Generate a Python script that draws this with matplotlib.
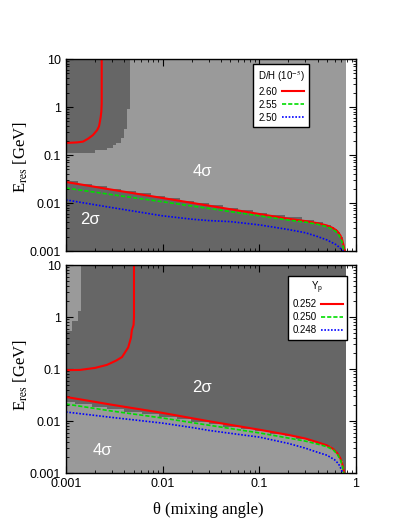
import numpy as np
import matplotlib
matplotlib.use("Agg")
import matplotlib.pyplot as plt
from matplotlib.colors import ListedColormap
from matplotlib.lines import Line2D

plt.rcParams['font.family'] = ['Liberation Sans', 'DejaVu Sans']
plt.rcParams['mathtext.fontset'] = 'stix'

# ---- D/H panel (top) ----
dh_labels = ['2.60', '2.55', '2.50']
# upper-left red contour
dh_up_theta = [0.001, 0.0013, 0.0015, 0.0017, 0.0019, 0.0021, 0.0022, 0.00228, 0.00232, 0.00234, 0.00234]
dh_up_E = [0.178, 0.183, 0.19, 0.22, 0.26, 0.33, 0.40, 0.6, 0.8, 1.2, 10]
# lower contours
dh_red_theta = [0.001, 0.003, 0.01, 0.03, 0.1, 0.2, 0.3, 0.4, 0.5, 0.58, 0.64, 0.69, 0.72, 0.745, 0.765]
dh_red_E = [0.0274, 0.0189, 0.0127, 0.0088, 0.0059, 0.0047, 0.0042, 0.0038, 0.0034, 0.0030, 0.0026, 0.0021, 0.0017, 0.0013, 0.001]
dh_grn_theta = [0.001, 0.003, 0.01, 0.03, 0.1, 0.2, 0.3, 0.4, 0.5, 0.58, 0.64, 0.69, 0.72, 0.74, 0.755]
dh_grn_E = [0.0205, 0.0149, 0.0106, 0.0077, 0.0054, 0.0044, 0.0040, 0.0036, 0.0032, 0.0028, 0.0024, 0.0019, 0.0015, 0.0012, 0.001]
dh_blu_theta = [0.001, 0.003, 0.01, 0.02, 0.03, 0.05, 0.1, 0.2, 0.3, 0.4, 0.5, 0.63, 0.7, 0.74]
dh_blu_E = [0.0116, 0.0080, 0.0054, 0.0046, 0.0043, 0.0041, 0.0035, 0.0028, 0.0024, 0.0020, 0.0017, 0.00134, 0.0011, 0.001]
# 2 sigma region edges
dh_2s_theta = [0.001, 0.003, 0.01, 0.03, 0.1, 0.2, 0.3, 0.4, 0.5, 0.58, 0.64, 0.69, 0.72, 0.745, 0.765]
dh_2s_E = [0.029, 0.0202, 0.0137, 0.0095, 0.0064, 0.0051, 0.0046, 0.0041, 0.0036, 0.0031, 0.0027, 0.0022, 0.0017, 0.0013, 0.001]
dh_box_E = [0.113, 0.115, 0.133, 0.154, 0.2, 0.4, 0.8, 1.0, 10]
dh_box_theta = [0.0, 0.0019, 0.00265, 0.0031, 0.0038, 0.0042, 0.0043, 0.0046, 0.0046]

# ---- Yp panel (bottom) ----
yp_labels = ['0.252', '0.250', '0.248']
yp_up_theta = [0.001, 0.0014, 0.002, 0.00265, 0.0033, 0.0038, 0.0044, 0.0047, 0.0048, 0.005, 0.00505, 0.00505]
yp_up_E = [0.095, 0.096, 0.105, 0.12, 0.145, 0.17, 0.26, 0.4, 0.56, 0.7, 1.0, 10]
yp_red_theta = [0.001, 0.003, 0.01, 0.03, 0.1, 0.2, 0.3, 0.4, 0.5, 0.58, 0.64, 0.69, 0.72, 0.74, 0.755]
yp_red_E = [0.029, 0.0205, 0.0143, 0.0099, 0.0068, 0.0054, 0.0046, 0.0039, 0.0034, 0.0029, 0.0024, 0.0019, 0.0015, 0.0012, 0.001]
yp_grn_theta = [0.001, 0.003, 0.01, 0.03, 0.1, 0.2, 0.3, 0.4, 0.5, 0.58, 0.64, 0.69, 0.72, 0.74, 0.745]
yp_grn_E = [0.0212, 0.0155, 0.0114, 0.0083, 0.0059, 0.0047, 0.0041, 0.0036, 0.0032, 0.0028, 0.0023, 0.0018, 0.0014, 0.0011, 0.001]
yp_blu_theta = [0.001, 0.003, 0.01, 0.02, 0.03, 0.05, 0.1, 0.2, 0.3, 0.4, 0.5, 0.6, 0.66, 0.7, 0.73]
yp_blu_E = [0.0149, 0.0117, 0.0091, 0.0075, 0.0066, 0.0058, 0.0049, 0.0037, 0.0030, 0.0025, 0.0022, 0.0018, 0.0015, 0.0012, 0.001]
# 4 sigma region edges
yp_4s_theta = yp_grn_theta
yp_4s_E = [0.0235, 0.0172, 0.0126, 0.0092, 0.0065, 0.0052, 0.0045, 0.0039, 0.0034, 0.0030, 0.0025, 0.0019, 0.0015, 0.0012, 0.001]
yp_box_E = [0.55, 0.56, 0.8, 0.81, 1.23, 1.24, 10]
yp_box_theta = [0.0, 0.00118, 0.00118, 0.00129, 0.00129, 0.0014, 0.0014]

theta_max = 0.785
dark, light = '#666666', '#9a9a9a'


def region_map(ny, b_theta, b_E, box_E, box_theta):
    xe = np.linspace(-3, np.log10(theta_max), 97)
    ye = np.linspace(-3, 1, ny + 1)
    xc = 0.5 * (xe[1:] + xe[:-1])
    yc = 0.5 * (ye[1:] + ye[:-1])
    X, Y = np.meshgrid(xc, yc)
    edge = np.interp(X, np.log10(b_theta), np.log10(b_E), right=-10)
    tmax = np.interp(Y, np.log10(box_E), box_theta, left=0.0)
    inside = (Y < edge) | (10 ** X < tmax)
    return 10 ** xe, 10 ** ye, inside.astype(float)


fig = plt.figure(figsize=(4.2, 5.28), dpi=100)
ax1 = fig.add_axes([66 / 420, 1 - 251 / 528, 290 / 420, 192 / 528])
ax2 = fig.add_axes([66 / 420, 1 - 473 / 528, 290 / 420, 208 / 528])

# top: dark = 2 sigma inside, light elsewhere
xe, ye, m = region_map(80, dh_2s_theta, dh_2s_E, dh_box_E, dh_box_theta)
ax1.pcolormesh(xe, ye, m, cmap=ListedColormap([light, dark]), vmin=0, vmax=1)
# bottom: light = 4 sigma inside, dark elsewhere
xe, ye, m = region_map(85, yp_4s_theta, yp_4s_E, yp_box_E, yp_box_theta)
ax2.pcolormesh(xe, ye, m, cmap=ListedColormap([dark, light]), vmin=0, vmax=1)

sty = [dict(color='#ff0000', lw=1.5, ls='-'),
       dict(color='#00dd00', lw=1.2, ls=(0, (2.5, 1.2))),
       dict(color='#0000ff', lw=1.2, ls=(0, (1, 1)))]

ax1.plot(dh_up_theta, dh_up_E, **sty[0])
ax1.plot(dh_red_theta, dh_red_E, **sty[0])
ax1.plot(dh_grn_theta, dh_grn_E, **sty[1])
ax1.plot(dh_blu_theta, dh_blu_E, **sty[2])

ax2.plot(yp_up_theta, yp_up_E, **sty[0])
ax2.plot(yp_red_theta, yp_red_E, **sty[0])
ax2.plot(yp_grn_theta, yp_grn_E, **sty[1])
ax2.plot(yp_blu_theta, yp_blu_E, **sty[2])

for ax in (ax1, ax2):
    ax.set_xscale('log')
    ax.set_yscale('log')
    ax.set_xlim(0.001, 1)
    ax.set_ylim(0.001, 10)
    ax.set_facecolor('white')
    ax.tick_params(which='both', direction='in', top=True, right=True, labelsize=9)
    ax.tick_params(which='major', length=5)
    ax.tick_params(which='minor', length=2.5)
    ax.set_yticks([0.001, 0.01, 0.1, 1, 10])
    ax.set_yticklabels(['0.001', '0.01', '0.1', '1', '10'])
    ax.set_xticks([0.001, 0.01, 0.1, 1])
    ax.set_xticklabels(['0.001', '0.01', '0.1', '1'])
    for s in ax.spines.values():
        s.set_linewidth(1.0)
ax1.tick_params(labelbottom=False)

txt = dict(color='white', fontsize=12, ha='center', va='center')
ax1.text(0.0255, 0.046, '4σ', **txt)
ax1.text(0.00177, 0.0046, '2σ', **txt)
ax2.text(0.0255, 0.045, '2σ', **txt)
ax2.text(0.0024, 0.00265, '4σ', **txt)


def legend(ax, title, labels, anchor):
    handles = [Line2D([], [], **s) for s in sty]
    lg = ax.legend(handles, labels, title=title, loc='upper right', bbox_to_anchor=anchor,
                   markerfirst=False, fontsize=7, title_fontsize=7, fancybox=False,
                   framealpha=1, edgecolor='black', handlelength=2.2, handletextpad=0.5,
                   labelspacing=0.3, borderpad=0.45, borderaxespad=0)
    lg.get_frame().set_linewidth(1.0)


legend(ax1, 'D/H (10$^{-5}$)', dh_labels, (0.838, 0.974))
legend(ax2, 'Y$_\\mathregular{p}$', yp_labels, (0.969, 0.947))

fig.text(0.05, 0.703, 'E$_{\\rm res}$ [GeV]', rotation=90, ha='center', va='center',
         fontsize=12, family='Liberation Serif')
fig.text(0.05, 0.29, 'E$_{\\rm res}$ [GeV]', rotation=90, ha='center', va='center',
         fontsize=12, family='Liberation Serif')
fig.text(0.495, 0.034, 'θ (mixing angle)', ha='center', va='center',
         fontsize=12, family='Liberation Serif')

fig.savefig('out.png', dpi=100)
